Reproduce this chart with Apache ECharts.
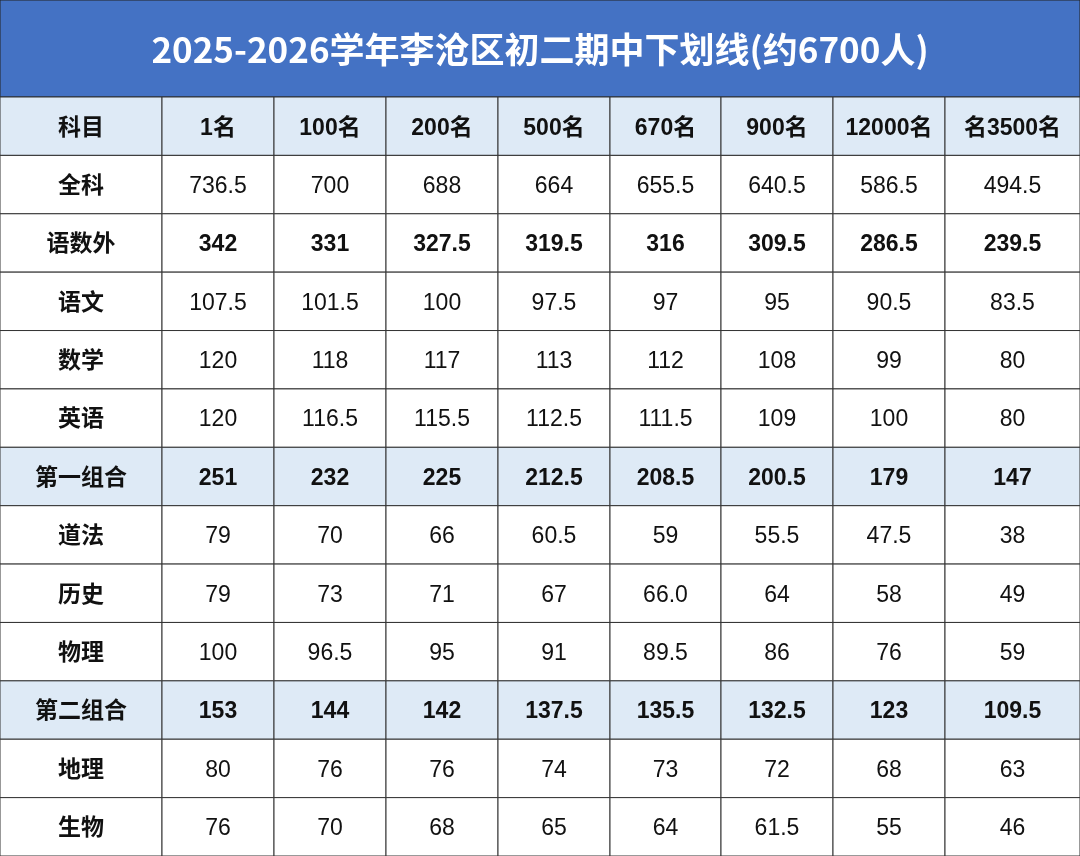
<!DOCTYPE html>
<html><head><meta charset="utf-8">
<script src="https://cdn.jsdelivr.net/npm/echarts@6/dist/echarts.min.js"></script>
<style>html,body{margin:0;padding:0;background:#fff}#c{width:1080px;height:856px}</style>
</head><body><div id="c"></div>
<script>
const title = '2025-2026学年李沧区初二期中下划线(约6700人)';
const headers = ['科目','1名','100名','200名','500名','670名','900名','12000名','名3500名'];
const subjects = ['全科','语数外','语文','数学','英语','第一组合','道法','历史','物理','第二组合','地理','生物'];
const r_quanke = ['736.5','700','688','664','655.5','640.5','586.5','494.5'];
const r_yushuwai = ['342','331','327.5','319.5','316','309.5','286.5','239.5'];
const r_yuwen = ['107.5','101.5','100','97.5','97','95','90.5','83.5'];
const r_shuxue = ['120','118','117','113','112','108','99','80'];
const r_yingyu = ['120','116.5','115.5','112.5','111.5','109','100','80'];
const r_zuhe1 = ['251','232','225','212.5','208.5','200.5','179','147'];
const r_daofa = ['79','70','66','60.5','59','55.5','47.5','38'];
const r_lishi = ['79','73','71','67','66.0','64','58','49'];
const r_wuli = ['100','96.5','95','91','89.5','86','76','59'];
const r_zuhe2 = ['153','144','142','137.5','135.5','132.5','123','109.5'];
const r_dili = ['80','76','76','74','73','72','68','63'];
const r_shengwu = ['76','70','68','65','64','61.5','55','46'];
const rows = [r_quanke,r_yushuwai,r_yuwen,r_shuxue,r_yingyu,r_zuhe1,r_daofa,r_lishi,r_wuli,r_zuhe2,r_dili,r_shengwu];
const boldRows = ['语数外','第一组合','第二组合'];
const shadeRows = ['第一组合','第二组合'];

const colWeights = [162,112,112,112,112,111,112,112,135];
const wSum = colWeights.reduce((a,b)=>a+b,0);
const data = [];
headers.forEach((h,c)=>data.push([c,0,h,'head']));
subjects.forEach((s,r)=>{
  const kind = shadeRows.includes(s)?'shade':(boldRows.includes(s)?'bold':'plain');
  data.push([0,r+1,s,kind,1]);
  rows[r].forEach((v,c)=>data.push([c+1,r+1,v,kind,0]));
});
const chart = echarts.init(document.getElementById('c'));
const font = '"Liberation Sans","Noto Sans CJK SC",sans-serif';
chart.setOption({
  animation:false,
  title:{text:title,left:'center',top:27,textStyle:{color:'#fff',fontSize:35,fontWeight:'bold',fontFamily:'"Noto Sans CJK SC",sans-serif'}},
  graphic:[{type:'rect',shape:{x:0,y:0,width:1080,height:97},style:{fill:'#4472C4',stroke:'#222',lineWidth:1},z:-1}],
  grid:{left:0,right:0,top:97,bottom:0},
  xAxis:{type:'category',data:headers,show:false},
  yAxis:{type:'category',data:['h'].concat(subjects),inverse:true,show:false},
  series:[{
    type:'custom',data:data,
    renderItem(params,api){
      const c=api.value(0), r=api.value(1);
      const cs=params.coordSys;
      const sz=api.size([1,1]);
      const cy=api.coord([c,r])[1];
      let x=cs.x; for(let i=0;i<c;i++) x+=colWeights[i]/wSum*cs.width;
      const w=colWeights[c]/wSum*cs.width;
      const h=sz[1];
      const d=data[params.dataIndex];
      const kind=d[3];
      const fill=(kind==='head'||kind==='shade')?'#DEEAF6':'#fff';
      const bold=(kind!=='plain')||c===0;
      return {type:'group',children:[
        {type:'rect',shape:{x:x,y:cy-h/2,width:w,height:h},style:{fill:fill,stroke:'#333',lineWidth:1}},
        {type:'text',style:{text:d[2],x:x+w/2,y:cy+2,align:'center',verticalAlign:'middle',
          fill:'#111',font:(bold?'bold ':'')+'23px '+font}}
      ]};
    }
  }]
});
</script></body></html>
